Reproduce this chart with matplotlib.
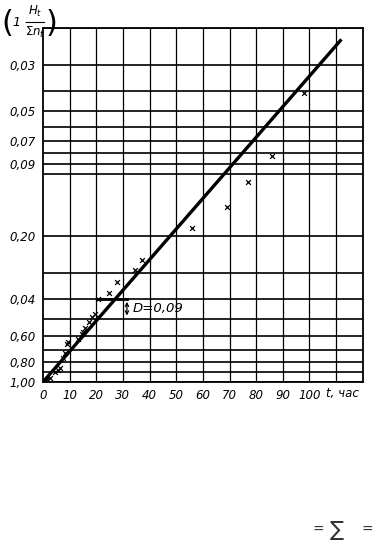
import numpy as np
import matplotlib.pyplot as plt

# empirical points (t, hours ; 1 - H_t / sum n_t)
t_pts = [1.5, 2.5, 4.5, 5.6, 6.5, 7.5, 8.2, 9.0, 9.4, 13.2, 14.6, 15.2, 15.8,
         17.3, 18.4, 19.5, 20.6, 24.6, 27.7, 34.6, 37.0, 56.0, 69.0, 77.0, 86.0, 98.0]
y_pts = [0.97, 0.96, 0.90, 0.88, 0.86, 0.77, 0.73, 0.66, 0.64, 0.62, 0.59, 0.575, 0.55,
         0.515, 0.49, 0.47, 0.40, 0.375, 0.33, 0.29, 0.26, 0.183, 0.145, 0.11, 0.082, 0.041]

# fitted exponential line: 1 - F = exp(-lam * t)
lam = 0.0338
t_line = [0, 112]

grid_y = [0.02, 0.03, 0.04, 0.05, 0.06, 0.07, 0.08, 0.09, 0.10,
          0.20, 0.30, 0.40, 0.50, 0.60, 0.70, 0.80, 0.90, 1.00]
ytick_vals = [0.03, 0.05, 0.07, 0.09, 0.20, 0.40, 0.60, 0.80, 1.00]
ytick_labels = ['0,03', '0,05', '0,07', '0,09', '0,20', '0,04', '0,60', '0,80', '1,00']
xtick_vals = [0, 10, 20, 30, 40, 50, 60, 70, 80, 90, 100]

fig = plt.figure(figsize=(3.89, 5.48), dpi=100)
ax = fig.add_axes([0.1105, 0.303, 0.822, 0.646])

ax.set_yscale('log')
ax.set_xlim(0, 120)
ax.set_ylim(1.0, 0.02)

for g in grid_y:
    ax.axhline(g, color='black', lw=1.2, zorder=1)
for v in range(10, 120, 10):
    ax.axvline(v, color='black', lw=0.9, zorder=1)

tl = np.array(t_line, dtype=float)
ax.plot(tl, np.exp(-lam * tl), color='black', lw=2.4, zorder=3, solid_capstyle='butt')
ax.scatter(t_pts, y_pts, marker='x', color='black', s=12, lw=0.9, zorder=4)

# D annotation
ax.plot([20.6, 31.5], [0.40, 0.40], color='black', lw=2.0, zorder=3)
ax.annotate('', xy=(31.5, 0.40), xytext=(31.5, 0.495),
            arrowprops=dict(arrowstyle='<->', color='black', lw=0.9, mutation_scale=6))
ax.text(33.5, 0.445, 'D=0,09', fontsize=9.5, style='italic', va='center', ha='left')

ax.set_yticks(ytick_vals)
ax.set_yticklabels(ytick_labels, fontsize=8.5, style='italic')
ax.yaxis.set_minor_locator(plt.NullLocator())
ax.set_xticks(xtick_vals)
ax.set_xticklabels([str(v) for v in xtick_vals], fontsize=8.5, style='italic')
ax.tick_params(length=0, pad=5)
ax.text(112.5, 1.06, 't, час', fontsize=8.5, style='italic', ha='center', va='top')

for s in ax.spines.values():
    s.set_linewidth(1.3)

# y-axis caption (1 - H_t / sum n_t)
fig.text(0.004, 0.957, '(', fontsize=22, ha='left', va='center')
fig.text(0.033, 0.959, '1 -', fontsize=9, style='italic', ha='left', va='center')
fig.text(0.090, 0.980, r'$H_t$', fontsize=8.5, ha='center', va='center')
fig.add_artist(plt.Line2D([0.066, 0.114], [0.960, 0.960], color='black', lw=0.8))
fig.text(0.090, 0.940, r'$\Sigma n_t$', fontsize=8.5, ha='center', va='center')
fig.text(0.116, 0.957, ')', fontsize=22, ha='left', va='center')

fig.text(0.818, 0.033, '=', fontsize=10, color='#333333', ha='center', va='center')
fig.text(0.866, 0.033, '∑', fontsize=15, color='#333333', ha='center', va='center')
fig.text(0.945, 0.033, '=', fontsize=10, color='#333333', ha='center', va='center')

fig.savefig('out.png', dpi=100)
